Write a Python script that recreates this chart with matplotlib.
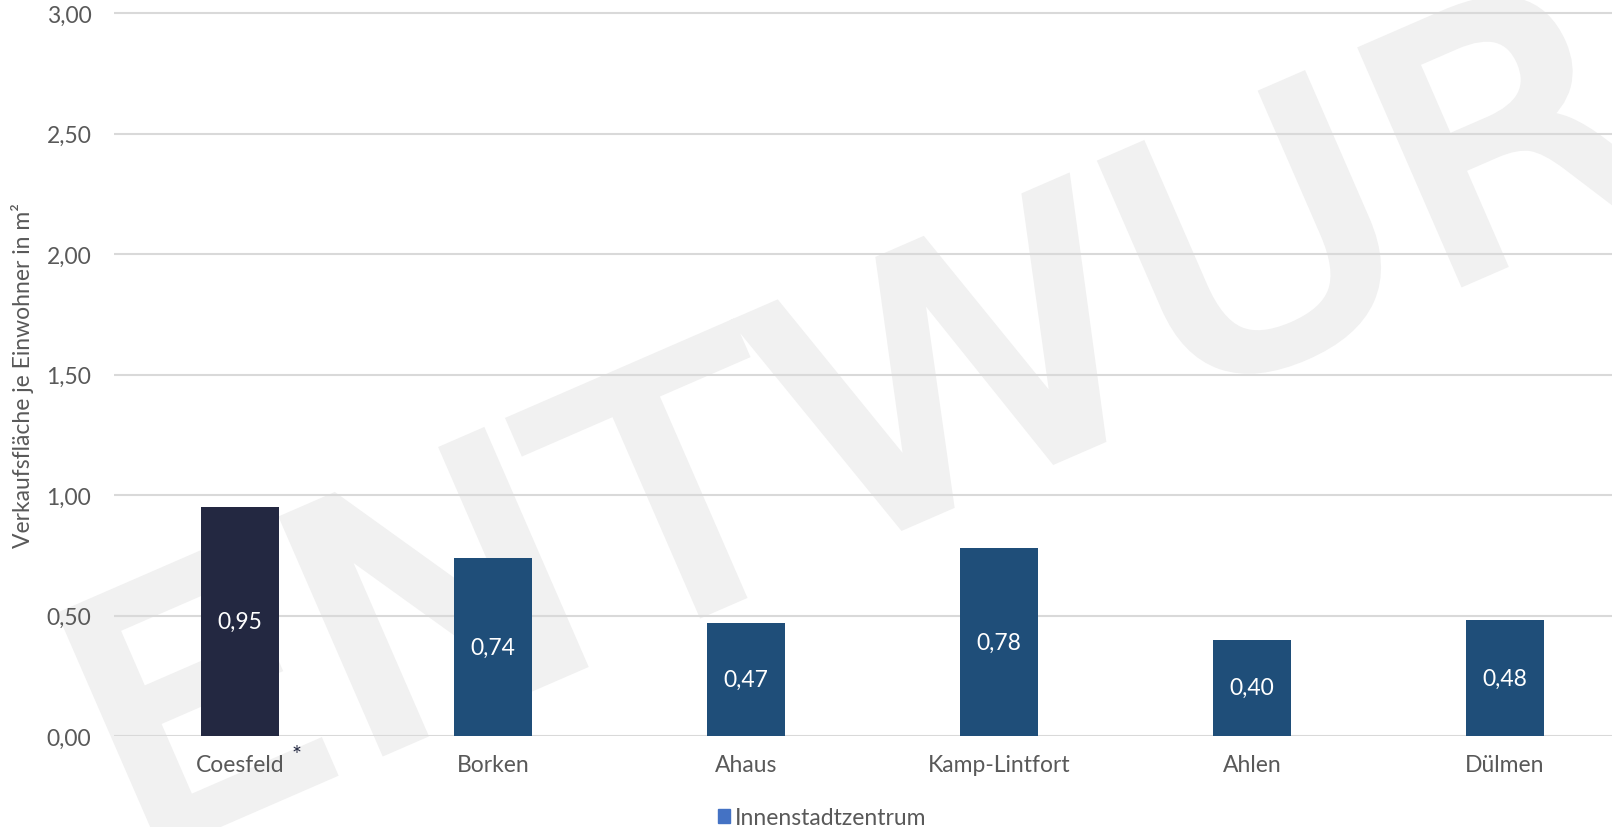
import numpy as np
import matplotlib
matplotlib.use("Agg")
import matplotlib.pyplot as plt
from matplotlib.ticker import FuncFormatter, MultipleLocator
from matplotlib.patches import Patch, PathPatch
from matplotlib.textpath import TextPath
from matplotlib.font_manager import FontProperties
from matplotlib.transforms import Affine2D

# data
staedte = ["Coesfeld", "Borken", "Ahaus", "Kamp-Lintfort", "Ahlen", "Dülmen"]
werte = [0.95, 0.74, 0.47, 0.78, 0.40, 0.48]
farben = ["#232841", "#1f4e79", "#1f4e79", "#1f4e79", "#1f4e79", "#1f4e79"]
serie = "Innenstadtzentrum"
ylabel = "Verkaufsfläche je Einwohner in m²"

plt.rcParams["font.family"] = ["Lato", "DejaVu Sans"]
grau = "#595959"

W, H = 1612, 828
fig = plt.figure(figsize=(W / 100, H / 100), dpi=100)
ax = fig.add_axes([113.5 / W, (H - 737) / H, 1518 / W, (737 - 9.5) / H])

# watermark "ENTWURF" behind everything
tp = TextPath((0, 0), "ENTWURF", size=1,
              prop=FontProperties(family="DejaVu Sans", weight="normal"))
tr = Affine2D().scale(382, 340).rotate_deg(23.5).translate(130.6, H - 859.6)
wm = PathPatch(tp, facecolor="#f1f1f1", edgecolor="#f1f1f1", lw=10,
               joinstyle="miter", transform=tr, zorder=0.2, clip_on=False)
ax.add_artist(wm)

x = np.arange(len(staedte))
ax.bar(x, werte, width=0.31, color=farben, zorder=2)
for i, v in enumerate(werte):
    ax.text(i, v / 2, f"{v:.2f}".replace(".", ","), ha="center", va="center",
            color="white", fontsize=16.5, zorder=3)

ax.text(0.222, -0.076, "*", ha="center", va="center", color="#232841",
        fontsize=17, zorder=3)

ax.set_xlim(-0.5, len(staedte) - 0.5)
ax.set_ylim(0, 3.02)
ax.yaxis.set_major_locator(MultipleLocator(0.5))
ax.yaxis.set_major_formatter(FuncFormatter(lambda v, p: f"{v:.2f}".replace(".", ",")))
ax.set_xticks(x)
ax.set_xticklabels(staedte)
ax.tick_params(axis="both", length=0, labelsize=16.5, labelcolor=grau)
ax.tick_params(axis="y", pad=16)
ax.tick_params(axis="x", pad=13)
ax.set_axisbelow(True)
ax.grid(axis="y", color="#d9d9d9", linewidth=1.5)
for s in ax.spines.values():
    s.set_visible(False)
ax.patch.set_alpha(0)

fig.text(23 / W, 1 - 376 / H, ylabel, rotation=90, ha="center", va="center",
         color=grau, fontsize=16.5)

fig.legend(handles=[Patch(color="#4472c4")], labels=[serie], loc="center",
           bbox_to_anchor=(822 / W, 1 - 819 / H), frameon=False,
           handlelength=0.55, handleheight=0.55, handletextpad=0.2,
           fontsize=16.5, labelcolor=grau)

fig.savefig("out.png", dpi=100, facecolor="white")
